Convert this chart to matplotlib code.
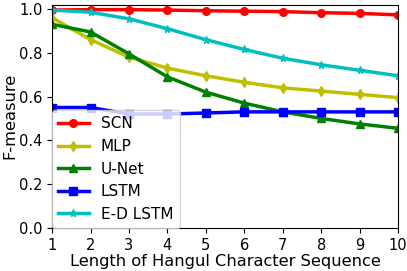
import numpy as np
import matplotlib
matplotlib.use("Agg")
import matplotlib.pyplot as plt

lengths = [1, 2, 3, 4, 5, 6, 7, 8, 9, 10]
scn = [0.995, 0.997, 0.997, 0.995, 0.992, 0.990, 0.988, 0.983, 0.980, 0.973]
mlp = [0.96, 0.86, 0.78, 0.73, 0.695, 0.665, 0.64, 0.625, 0.61, 0.595]
unet = [0.93, 0.895, 0.795, 0.69, 0.62, 0.57, 0.53, 0.50, 0.475, 0.455]
lstm = [0.55, 0.55, 0.52, 0.52, 0.525, 0.53, 0.53, 0.53, 0.53, 0.53]
ed_lstm = [0.995, 0.985, 0.955, 0.91, 0.86, 0.815, 0.775, 0.745, 0.72, 0.695]

series = [
    ("SCN", scn, "r", "o"),
    ("MLP", mlp, "y", "d"),
    ("U-Net", unet, "g", "^"),
    ("LSTM", lstm, "b", "s"),
    ("E-D LSTM", ed_lstm, "c", "*"),
]

fig, ax = plt.subplots(figsize=(4.07, 2.71), dpi=100)
for name, vals, col, mk in series:
    ax.plot(lengths, vals, color=col, marker=mk, linewidth=2.5, markersize=5.5, label=name)

ax.set_xlim(1, 10)
ax.set_ylim(0, 1.02)
ax.set_xticks(lengths)
ax.set_yticks([0.0, 0.2, 0.4, 0.6, 0.8, 1.0])
ax.tick_params(labelsize=10.5)
ax.set_xlabel("Length of Hangul Character Sequence", fontsize=11.7, labelpad=1)
ax.set_ylabel("F-measure", fontsize=11.7, labelpad=1)
ax.legend(loc="lower left", fontsize=11, borderaxespad=0)
fig.subplots_adjust(left=0.128, right=0.978, bottom=0.159, top=0.983)
fig.savefig("out.png")
